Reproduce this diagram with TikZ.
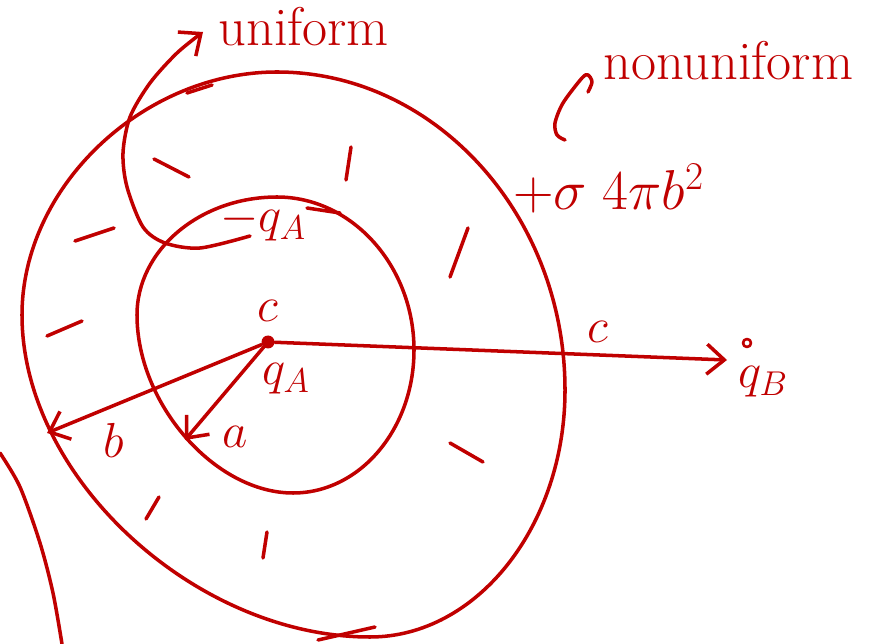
\RequirePackage{fix-cm}
\documentclass[tikz,border=0pt]{standalone}
\usepackage{amsmath}
\usepackage{xcolor}
\usetikzlibrary{arrows.meta,positioning}
\definecolor{ink}{RGB}{192,0,0}
\begin{document}
\begin{tikzpicture}[
    x=0.02cm, y=-0.02cm,
    line cap=round, line join=round,
    every node/.style={text=ink, inner sep=0pt},
    rim/.style={draw=ink, line width=2pt},
    stroke/.style={draw=ink, line width=2pt},
    arrow/.style={draw=ink, line width=2pt, -{Straight Barb[length=3.5mm, width=6mm]}},
    lbl/.style={font=\fontsize{28}{30}\selectfont},
    word/.style={font=\fontsize{31}{33}\selectfont, anchor=base west},
    dotc/.style={circle, fill=ink, minimum size=2.6mm},
    dotb/.style={circle, draw=ink, line width=1.5pt, minimum size=1.6mm}
  ]
    \useasboundingbox (0,0) rectangle (871,644);
    \draw[rim] (277,72) .. controls (435,72) and (565,215) .. (565,390)
      .. controls (565,526) and (477,637) .. (370,637)
      .. controls (196,637) and (22,478) .. (22,315)
      .. controls (22,186) and (144,72) .. (277,72) -- cycle;
    \draw[rim] (277,197) .. controls (352,197) and (414,266) .. (414,350)
      .. controls (414,429) and (360,493) .. (293,493)
      .. controls (215,493) and (137,404) .. (137,315)
      .. controls (137,250) and (200,197) .. (277,197) -- cycle;
    \draw[rim] plot[smooth] coordinates {(0,453) (20,487) (40,543) (53,593) (62,644)};
    \draw[stroke] (187,93) -- (212,85) (154,159) -- (189,177) (351,147) -- (346,180)
      (75,241) -- (114,228) (307,208) -- (340,213) (468,228) -- (450,277)
      (47,336) -- (82,321) (450,443) -- (483,462) (159,497) -- (146,519)
      (267,532) -- (263,558) (318,640) -- (375,627);
    \node[dotc] (o) at (268,342) {};
    \node[dotb] (pb) at (747,343) {};
    \coordinate (tb) at (47,433);
    \coordinate (ta) at (185,440);
    \coordinate (tc) at (727,360);
    \coordinate (us) at (250,236);
    \coordinate (ut) at (203,32);
    \coordinate (ns) at (565,140);
    \node[word] (uni) at (218,46) {uniform};
    \node[word] (nonuni) at (603,80) {nonuniform};
    \node[lbl, anchor=base west, font=\fontsize{32}{34}\selectfont] (sig) at (513,210) {$+\sigma\;4\pi b^{2}$};
    \node[lbl, anchor=base west] (qh) at (220,232) {$-q_A$};
    \node[lbl, anchor=base west] (qa) at (262,385) {$q_A$};
    \node[lbl, anchor=base west] (qb) at (738,388) {$q_B$};
    \node[lbl, above=2.6mm of o] (c1) {$c$};
    \node[lbl] (c2) at (598,332) {$c$};
    \node[lbl] (lb) at (114,440) {$b$};
    \node[lbl] (la) at (235,437) {$a$};
    \draw[arrow] (o) -- (tb);
    \draw[arrow] (o) -- (ta);
    \draw[arrow] (o) -- (tc);
    \draw[arrow] plot[smooth] coordinates {(us) (200,248) (165,243) (143,227) (127,187) (123,153) (130,117) (150,83) (177,53) (ut)};
    \draw[stroke] plot[smooth] coordinates {(ns) (557,135) (555,123) (563,103) (582,78) (588,75) (592,82) (588,92)};
\end{tikzpicture}
\end{document}
